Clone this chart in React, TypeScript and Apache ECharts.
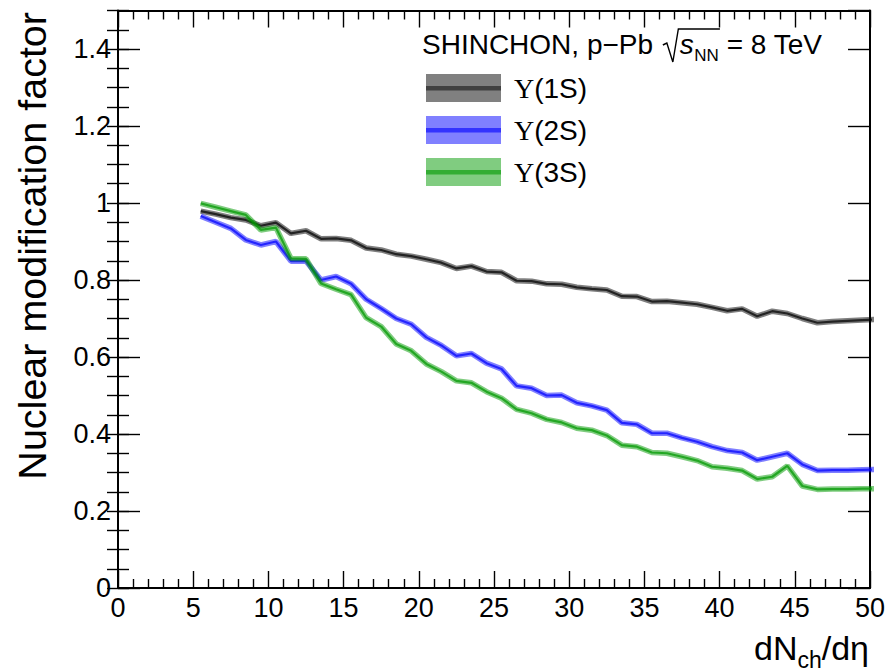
import React, { useEffect, useRef } from "react";
import * as echarts from "echarts";

// dN_ch/deta bin centres
const xValues = [
  5.5, 6.5, 7.5, 8.5, 9.5, 10.5, 11.5, 12.5, 13.5, 14.5, 15.5, 16.5, 17.5, 18.5, 19.5, 20.5,
  21.5, 22.5, 23.5, 24.5, 25.5, 26.5, 27.5, 28.5, 29.5, 30.5, 31.5, 32.5, 33.5, 34.5, 35.5,
  36.5, 37.5, 38.5, 39.5, 40.5, 41.5, 42.5, 43.5, 44.5, 45.5, 46.5, 47.5, 48.5, 49.5, 50.5,
];

const upsilon1S = [
  0.979, 0.971, 0.962, 0.956, 0.941, 0.949, 0.921, 0.928, 0.907, 0.908, 0.903, 0.883, 0.878,
  0.867, 0.862, 0.854, 0.845, 0.83, 0.836, 0.822, 0.82, 0.798, 0.797, 0.79, 0.789, 0.781, 0.777,
  0.774, 0.758, 0.757, 0.744, 0.745, 0.741, 0.737, 0.729, 0.72, 0.725, 0.706, 0.719, 0.713, 0.7,
  0.689, 0.692, 0.694, 0.696, 0.698,
];

const upsilon2S = [
  0.966, 0.95, 0.934, 0.904, 0.891, 0.9, 0.849, 0.849, 0.8, 0.809, 0.79, 0.75, 0.726, 0.7, 0.685,
  0.651, 0.63, 0.603, 0.609, 0.584, 0.569, 0.525, 0.519, 0.5, 0.501, 0.481, 0.473, 0.462, 0.429,
  0.425, 0.402, 0.402, 0.39, 0.38, 0.367, 0.357, 0.352, 0.332, 0.341, 0.35, 0.321, 0.305, 0.306,
  0.306, 0.307, 0.308,
];

const upsilon3S = [
  0.999, 0.989, 0.979, 0.969, 0.93, 0.936, 0.856, 0.855, 0.791, 0.776, 0.762, 0.702, 0.679, 0.634,
  0.616, 0.582, 0.562, 0.538, 0.533, 0.51, 0.493, 0.464, 0.454, 0.438, 0.43, 0.415, 0.41, 0.396,
  0.371, 0.367, 0.352, 0.35, 0.341, 0.331, 0.315, 0.311, 0.305, 0.283, 0.289, 0.317, 0.265, 0.256,
  0.257, 0.257, 0.258, 0.258,
];

const seriesNames = ["Υ(1S)", "Υ(2S)", "Υ(3S)"];
const seriesLabels = ["(1S)", "(2S)", "(3S)"];
const headerMain = "SHINCHON, p−Pb";
const headerRest = " = 8 TeV";
const yTitle = "Nuclear modification factor";

const SANS = '"Liberation Sans", Arial, Helvetica, sans-serif';
const SERIF = '"Liberation Serif", "DejaVu Serif", serif';

const bandColors = ["rgba(0,0,0,0.5)", "rgba(0,0,255,0.5)", "rgba(0,153,0,0.5)"];
const lineColors = ["rgba(0,0,0,0.72)", "rgba(0,0,255,0.72)", "rgba(0,153,0,0.72)"];
const legendBand = ["#808080", "#8080ff", "#80cc80"];
const legendLine = ["#404040", "#3333ff", "#33ad33"];

let measureCtx: CanvasRenderingContext2D | null = null;
function measure(text: string, font: string): number {
  if (!measureCtx) measureCtx = document.createElement("canvas").getContext("2d");
  measureCtx!.font = font;
  return measureCtx!.measureText(text).width;
}
const fnt = (size: number, style = "") => `${style} ${size}px "Liberation Sans"`.trim();

export default function App() {
  const ref = useRef<HTMLDivElement>(null);

  useEffect(() => {
    document.body.style.margin = "0";
    if (!ref.current) return;
    const chart = echarts.init(ref.current, null, { renderer: "svg" });

    const data = [upsilon1S, upsilon2S, upsilon3S];
    const series: any[] = [];
    data.forEach((vals, i) => {
      const pts = xValues.map((x, k) => [x, vals[k]]);
      series.push({
        type: "line",
        name: seriesNames[i] + " band",
        data: pts,
        symbol: "none",
        silent: true,
        lineStyle: { color: bandColors[i], width: 5.5 },
        z: 2 + i * 2,
      });
      series.push({
        type: "line",
        name: seriesNames[i],
        data: pts,
        symbol: "none",
        silent: true,
        lineStyle: { color: lineColors[i], width: 2.2 },
        z: 3 + i * 2,
      });
    });

    const graphics: any[] = [];
    const mid = (baseline: number, size: number) => baseline - 0.347 * size;

    // Header
    const hF = 28;
    const hB = 54;
    const hx = 422;
    graphics.push({
      type: "text",
      x: hx,
      y: mid(hB, hF),
      style: { text: headerMain, font: fnt(hF), fill: "#000", align: "left", verticalAlign: "middle" },
    });
    const rx = hx + measure(headerMain + " ", fnt(hF)) + 2;
    const sx = rx + 17;
    const sW = measure("s", fnt(hF, "italic"));
    const nx = sx + sW + 0.5;
    const nnF = 17;
    const nnW = measure("NN", fnt(nnF));
    const olEnd = nx + nnW + 1;
    graphics.push({
      type: "polyline",
      shape: {
        points: [
          [rx, hB - 9],
          [rx + 4, hB - 11],
          [rx + 10, hB + 8],
          [rx + 15.5, hB - 25],
          [olEnd, hB - 25],
        ],
      },
      style: { stroke: "#000", lineWidth: 1.4, fill: "none" },
    });
    graphics.push({
      type: "text",
      x: sx,
      y: mid(hB, hF),
      style: { text: "s", font: fnt(hF, "italic"), fill: "#000", align: "left", verticalAlign: "middle" },
    });
    graphics.push({
      type: "text",
      x: nx,
      y: mid(hB + 7, nnF),
      style: { text: "NN", font: fnt(nnF), fill: "#000", align: "left", verticalAlign: "middle" },
    });
    graphics.push({
      type: "text",
      x: nx + nnW,
      y: mid(hB, hF),
      style: { text: headerRest, font: fnt(hF), fill: "#000", align: "left", verticalAlign: "middle" },
    });

    // Legend
    const legTop = [74, 116, 158];
    legTop.forEach((t, i) => {
      graphics.push({
        type: "rect",
        shape: { x: 426, y: t, width: 75, height: 28 },
        style: { fill: legendBand[i] },
      });
      graphics.push({
        type: "rect",
        shape: { x: 426, y: t + 12, width: 75, height: 4.5 },
        style: { fill: legendLine[i] },
      });
      graphics.push({
        type: "text",
        x: 514,
        y: t + 14.5,
        style: {
          text: "{g|Υ}" + seriesLabels[i],
          font: fnt(28),
          fill: "#000",
          align: "left",
          verticalAlign: "middle",
          rich: { g: { fontFamily: SERIF, fontSize: 28, fill: "#000" } },
        },
      });
    });

    // Y title (rotated)
    const yF = 39.5;
    graphics.push({
      type: "text",
      x: 32,
      y: 12,
      rotation: Math.PI / 2,
      style: { text: yTitle, font: fnt(yF), fill: "#000", align: "right", verticalAlign: "middle" },
    });

    // X title dN_ch/deta, right aligned to frame
    const xF = 34;
    const xB = 660;
    const subF = 23;
    const wA = measure("dN", fnt(xF));
    const wB = measure("ch", fnt(subF));
    const wC = measure("/dη", fnt(xF));
    const xStart = 869 - (wA + wB + wC);
    graphics.push({
      type: "text",
      x: xStart,
      y: mid(xB, xF),
      style: { text: "dN", font: fnt(xF), fill: "#000", align: "left", verticalAlign: "middle" },
    });
    graphics.push({
      type: "text",
      x: xStart + wA,
      y: mid(xB + 8, subF),
      style: { text: "ch", font: fnt(subF), fill: "#000", align: "left", verticalAlign: "middle" },
    });
    graphics.push({
      type: "text",
      x: xStart + wA + wB,
      y: mid(xB, xF),
      style: { text: "/dη", font: fnt(xF), fill: "#000", align: "left", verticalAlign: "middle" },
    });

    const axisLine = { show: true, onZero: false, lineStyle: { color: "#000", width: 2 } };
    const tickStyle = { color: "#000", width: 1.4 };
    const labelStyle = { color: "#000", fontSize: 27, fontFamily: SANS };

    const xAxisBase = (pos: string, labels: boolean) => ({
      type: "value",
      min: 0,
      max: 50,
      interval: 5,
      position: pos,
      axisLine,
      axisTick: { show: true, inside: true, length: 17, lineStyle: tickStyle },
      minorTick: { show: true, splitNumber: 5, length: 9, lineStyle: tickStyle },
      axisLabel: labels ? { ...labelStyle, margin: 6 } : { show: false },
      splitLine: { show: false },
      minorSplitLine: { show: false },
    });

    const yMajor = (pos: string, labels: boolean) => ({
      type: "value",
      min: 0,
      max: 1.5,
      interval: 0.2,
      position: pos,
      axisLine,
      axisTick: { show: true, inside: true, length: 22, lineStyle: tickStyle },
      axisLabel: labels ? { ...labelStyle, margin: 7, showMaxLabel: false } : { show: false },
      splitLine: { show: false },
    });
    const yMinor = (pos: string) => ({
      type: "value",
      min: 0,
      max: 1.5,
      interval: 0.05,
      position: pos,
      axisLine: { show: false },
      axisTick: { show: true, inside: true, length: 11, lineStyle: tickStyle },
      axisLabel: { show: false },
      splitLine: { show: false },
    });

    chart.setOption({
      animation: false,
      backgroundColor: "#fff",
      grid: { left: 118, right: 18, top: 10.5, bottom: 84, containLabel: false, outerBoundsMode: "none" },
      xAxis: [xAxisBase("bottom", true), xAxisBase("top", false)],
      yAxis: [yMajor("left", true), yMinor("left"), yMajor("right", false), yMinor("right")],
      series,
      graphic: graphics,
    });

    return () => chart.dispose();
  }, []);

  return <div ref={ref} style={{ width: 888, height: 672 }} />;
}
